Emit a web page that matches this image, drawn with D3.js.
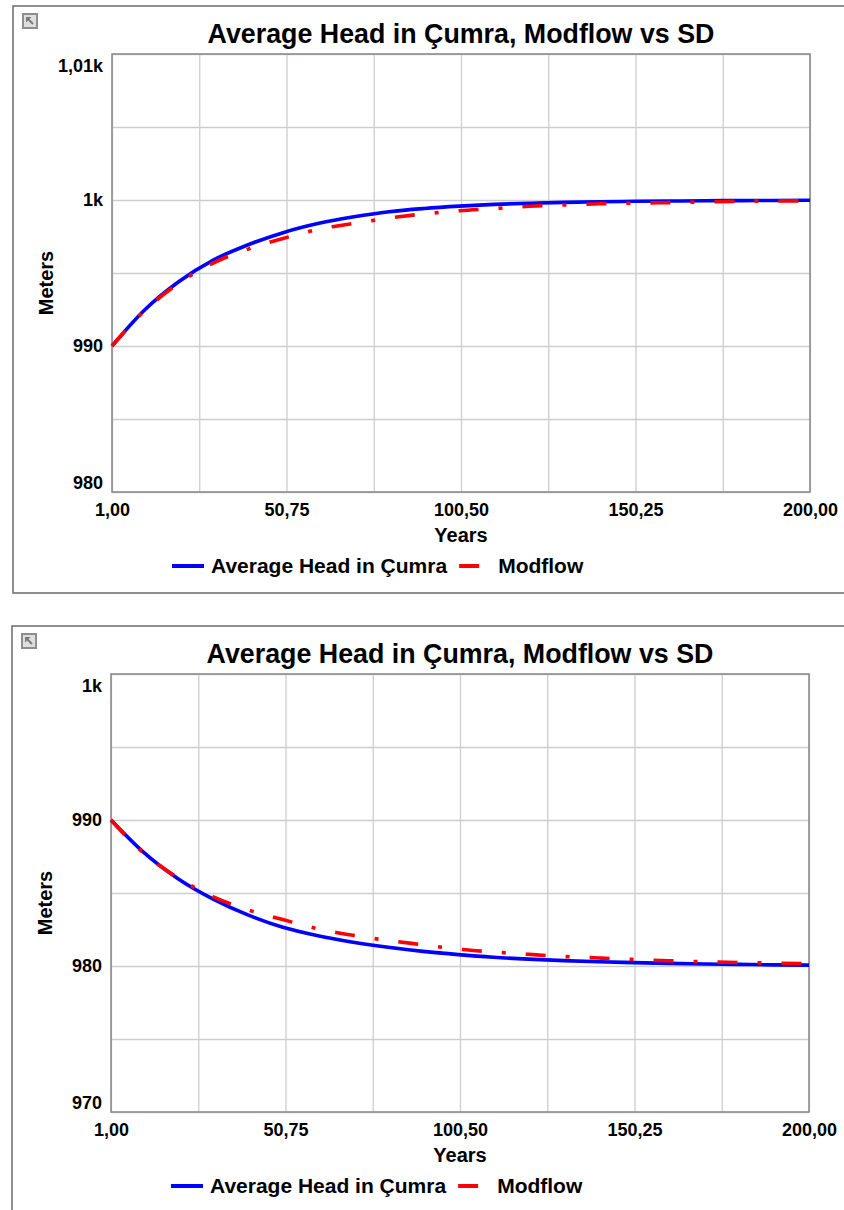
<!DOCTYPE html>
<html>
<head>
<meta charset="utf-8">
<title>Average Head in Çumra, Modflow vs SD</title>
<script src="https://cdn.jsdelivr.net/npm/d3@7"></script>
<style>
  body { margin: 0; background: #fff; }
  svg text { font-family: "Liberation Sans", Arial, sans-serif; font-weight: bold; fill: #000; }
</style>
</head>
<body>
<div id="charts"></div>
<script>
// simulation output, sampled every 10 years
const years = [1, 10, 20, 30, 40, 50, 60, 70, 80, 90, 100, 110, 120, 130, 140, 150, 160, 170, 180, 190, 200];

// run 1: head recovering towards 1000 m
const headRise = [990, 992.4, 994.4, 995.9, 996.95, 997.78, 998.4, 998.85, 999.2, 999.42, 999.58,
    999.7, 999.78, 999.84, 999.88, 999.91, 999.93, 999.95, 999.96, 999.97, 999.98];
const modflowRise = [990, 992.35, 994.3, 995.7, 996.65, 997.38, 998.0, 998.4, 998.76, 999.05, 999.26,
    999.41, 999.57, 999.66, 999.74, 999.79, 999.82, 999.87, 999.91, 999.93, 999.95];

// run 2: head dropping towards 980 m
const headFall = [990, 987.85, 986.0, 984.6, 983.5, 982.65, 982.07, 981.63, 981.28, 981.0, 980.78,
    980.6, 980.47, 980.37, 980.29, 980.23, 980.18, 980.14, 980.11, 980.08, 980.06];
const modflowFall = [990, 987.8, 986.05, 984.75, 983.85, 983.18, 982.55, 982.1, 981.75, 981.45, 981.15,
    980.96, 980.8, 980.65, 980.55, 980.45, 980.36, 980.29, 980.24, 980.2, 980.16];

const xGrid = [1, 25.875, 50.75, 75.625, 100.5, 125.375, 150.25, 175.125, 200];
const xLabels = ["1,00", "", "50,75", "", "100,50", "", "150,25", "", "200,00"];

const riseYGrid = [980, 985, 990, 995, 1000, 1005, 1010];
const riseYLabels = ["980", "", "990", "", "1k", "", "1,01k"];
const fallYGrid = [970, 975, 980, 985, 990, 995, 1000];
const fallYLabels = ["970", "", "980", "", "990", "", "1k"];

const seriesNames = ["Average Head in Çumra", "Modflow"];
const seriesColors = ["#0000ff", "#ff0000"];

const chart = {};

chart.width = 844;
chart.height = 1210;
chart.plotW = 698;
chart.plotH = 438;

const svg = d3.select("#charts").append("svg")
    .attr("width", chart.width)
    .attr("height", chart.height);

chart.drawIcon = function (g) {
    const icon = g.append("g").attr("transform", "translate(9,7)");
    icon.append("rect").attr("width", 16).attr("height", 16).attr("fill", "#8e8e8e");
    icon.append("rect").attr("x", 2).attr("y", 2).attr("width", 12).attr("height", 12).attr("fill", "#dedede");
    icon.append("path").attr("d", "M11,11L6,6").attr("stroke", "#7a7a7a").attr("stroke-width", 2);
    icon.append("path").attr("d", "M4,4H9.5L4,9.5Z").attr("fill", "#7a7a7a");
};

chart.drawPanel = function (opt) {
    const w = chart.plotW;
    const h = chart.plotH;
    const panel = svg.append("g").attr("transform", "translate(" + opt.x + "," + opt.y + ")");

    panel.append("rect")
        .attr("width", 900).attr("height", opt.boxH)
        .attr("fill", "#fff").attr("stroke", "#6a6a6a").attr("stroke-width", 1.5);
    chart.drawIcon(panel);

    panel.append("text")
        .attr("x", 99 + w / 2).attr("y", 37)
        .attr("text-anchor", "middle")
        .style("font-size", "26.8px")
        .text("Average Head in Çumra, Modflow vs SD");

    const plot = panel.append("g").attr("transform", "translate(99,48)");

    const x = d3.scaleLinear().domain([1, 200]).range([0, w]);
    const y = d3.scaleLinear().domain(opt.yDomain).range([h, 0]);

    const xAxis = plot.append("g")
        .attr("transform", "translate(0," + h + ")")
        .call(d3.axisBottom(x).tickValues(xGrid).tickSize(-h).tickPadding(11)
            .tickFormat((d, i) => xLabels[i]));
    const yAxis = plot.append("g")
        .call(d3.axisLeft(y).tickValues(opt.yGrid).tickSize(-w).tickPadding(9)
            .tickFormat((d, i) => opt.yLabels[i]));

    [xAxis, yAxis].forEach(ax => {
        ax.select(".domain").remove();
        ax.selectAll(".tick line").attr("stroke", "#cdcdcd").attr("stroke-width", 1.3);
        ax.selectAll(".tick text").style("font-size", "18px").attr("fill", "#000");
    });

    // end labels are kept inside the plot's height
    const yTexts = yAxis.selectAll(".tick text");
    const last = opt.yGrid.length - 1;
    yTexts.attr("dy", (d, i) => i == 0 ? "-0.22em" : (i == last ? "0.95em" : "0.32em"));

    plot.append("rect")
        .attr("width", w).attr("height", h)
        .attr("fill", "none").attr("stroke", "#8c8c8c").attr("stroke-width", 1.6);

    plot.append("text")
        .attr("x", w / 2).attr("y", h + 50)
        .attr("text-anchor", "middle")
        .style("font-size", "20px")
        .text("Years");

    plot.append("text")
        .attr("transform", "translate(-59," + (h / 2 + 10) + ") rotate(-90)")
        .attr("text-anchor", "middle")
        .style("font-size", "20px")
        .text("Meters");

    const line = d3.line()
        .x((d, i) => x(years[i]))
        .y(d => y(d))
        .curve(d3.curveMonotoneX);

    plot.append("path")
        .attr("d", line(opt.head))
        .attr("fill", "none")
        .attr("stroke", seriesColors[0])
        .attr("stroke-width", 3.6);
    plot.append("path")
        .attr("d", line(opt.modflow))
        .attr("fill", "none")
        .attr("stroke", seriesColors[1])
        .attr("stroke-width", 3.6)
        .attr("stroke-dasharray", "20,20,4,20");

    // legend under the axis title
    const legend = plot.append("g").attr("transform", "translate(60," + (h + 74) + ")");
    let lx = 0;
    seriesNames.forEach((name, i) => {
        legend.append("line")
            .attr("x1", lx).attr("x2", lx + 32)
            .attr("stroke", seriesColors[i])
            .attr("stroke-width", 4)
            .attr("stroke-dasharray", i == 1 ? "20,20" : null);
        const t = legend.append("text")
            .attr("x", lx + 39).attr("y", 7)
            .style("font-size", "21px")
            .text(name);
        lx += 39 + t.node().getComputedTextLength() + 12;
    });
};

chart.drawPanel({x: 13, y: 6, boxH: 587, yDomain: [980, 1010], yGrid: riseYGrid, yLabels: riseYLabels,
    head: headRise, modflow: modflowRise});
chart.drawPanel({x: 12, y: 626, boxH: 700, yDomain: [970, 1000], yGrid: fallYGrid, yLabels: fallYLabels,
    head: headFall, modflow: modflowFall});
</script>
</body>
</html>
